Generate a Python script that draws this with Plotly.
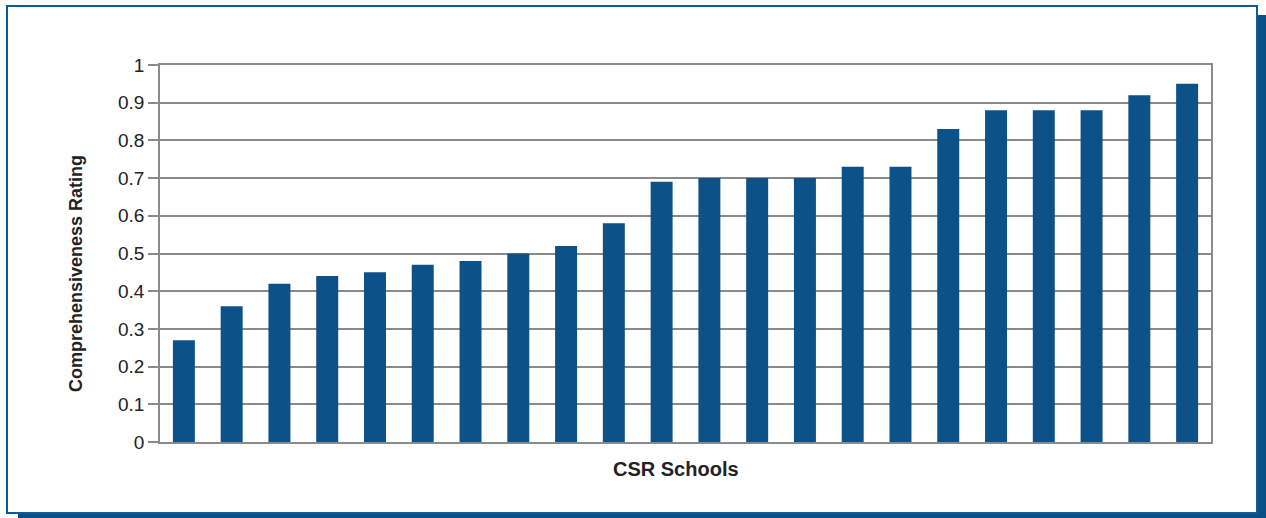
import plotly.graph_objects as go

# Comprehensiveness rating of each CSR school, sorted ascending
schools = [f"School {i}" for i in range(1, 23)]
ratings = [0.27, 0.36, 0.42, 0.44, 0.45, 0.47, 0.48, 0.50, 0.52, 0.58, 0.69,
           0.70, 0.70, 0.70, 0.73, 0.73, 0.83, 0.88, 0.88, 0.88, 0.92, 0.95]
y_ticks = [0, 0.1, 0.2, 0.3, 0.4, 0.5, 0.6, 0.7, 0.8, 0.9, 1]
y_tick_text = ["0", "0.1", "0.2", "0.3", "0.4", "0.5", "0.6", "0.7", "0.8", "0.9", "1"]
x_title = "CSR Schools"
y_title = "Comprehensiveness Rating"

W, H = 1266, 518
ML, MR, MT, MB = 160, 55, 65, 76
PW, PH = W - ML - MR, H - MT - MB

BAR = "#0d5189"
FRAME = "#0f5a94"
GRID = "#8a8a8a"
TEXT = "#222222"


def px(x):
    return (x - ML) / PW


def py(y):
    return (H - MB - y) / PH


fig = go.Figure(go.Bar(x=schools, y=ratings, marker=dict(color=BAR, line=dict(width=0)),
                       hoverinfo="y"))

shapes = [
    # drop shadow strips (right and bottom)
    dict(type="rect", xref="paper", yref="paper", x0=px(1258), x1=px(1266), y0=py(518), y1=py(15),
         fillcolor="#0b4f87", line=dict(width=0), layer="below"),
    dict(type="rect", xref="paper", yref="paper", x0=px(18), x1=px(1266), y0=py(518), y1=py(514),
         fillcolor="#0b4f87", line=dict(width=0), layer="below"),
    # thin outer frame
    dict(type="rect", xref="paper", yref="paper", x0=px(7), x1=px(1257), y0=py(513), y1=py(6),
         fillcolor="rgba(0,0,0,0)", line=dict(color=FRAME, width=2), layer="below"),
]

annotations = [
    dict(text=f"<b>{x_title}</b>", xref="paper", yref="paper", x=px(676), y=py(469),
         xanchor="center", yanchor="middle", showarrow=False,
         font=dict(size=20, color=TEXT)),
    dict(text=f"<b>{y_title}</b>", xref="paper", yref="paper", x=px(76), y=py(274),
         xanchor="center", yanchor="middle", showarrow=False, textangle=-90,
         font=dict(size=18, color=TEXT)),
]

fig.update_layout(
    width=W, height=H,
    margin=dict(l=ML, r=MR, t=MT, b=MB, pad=0),
    paper_bgcolor="white", plot_bgcolor="white",
    bargap=0.54,
    showlegend=False,
    shapes=shapes,
    annotations=annotations,
    font=dict(family="Liberation Sans, Arial, sans-serif", color=TEXT),
    xaxis=dict(showticklabels=False, ticks="", showgrid=False, showline=True, mirror=True,
               linecolor=GRID, linewidth=1.5),
    yaxis=dict(range=[0, 1], tickvals=y_ticks, ticktext=y_tick_text,
               ticks="outside", ticklen=10, tickcolor=GRID, tickwidth=1.5,
               showgrid=True, gridcolor=GRID, gridwidth=1.5,
               showline=True, mirror=True, linecolor=GRID, linewidth=1.5,
               zeroline=False, tickfont=dict(size=19, color=TEXT)),
)

fig.write_html("out.html")
